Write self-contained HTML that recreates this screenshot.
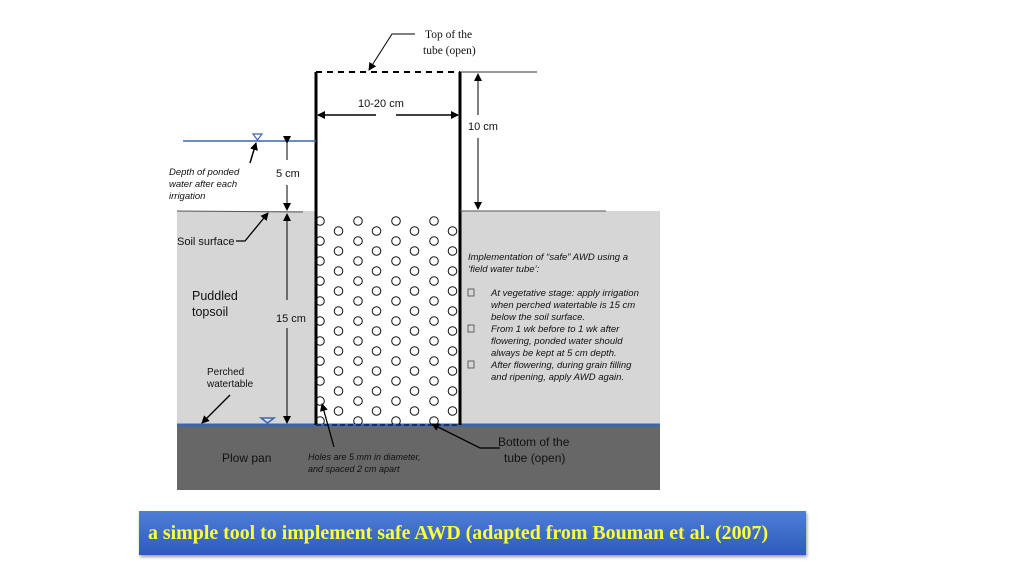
<!DOCTYPE html>
<html><head><meta charset="utf-8"><style>
html,body{margin:0;padding:0;background:#fff;}
body{width:1024px;height:576px;overflow:hidden;position:relative;font-family:"Liberation Sans",sans-serif;}
svg text{font-family:"Liberation Sans",sans-serif;fill:#111;}
.banner{position:absolute;left:139px;top:511px;width:667px;height:44px;background:linear-gradient(#4f7ed6,#2d5bbd);box-shadow:1px 2px 3px rgba(0,0,0,.4);}
.banner span{position:absolute;left:9px;top:11px;font-family:"Liberation Serif",serif;font-weight:bold;font-size:19.9px;color:#ffff3a;white-space:nowrap;}
</style></head><body>
<svg width="1024" height="576" style="position:absolute;left:0;top:0">
<defs>
<pattern id="holes" patternUnits="userSpaceOnUse" x="310" y="211" width="38" height="20">
<circle cx="10" cy="10" r="4.3" fill="none" stroke="#111" stroke-width="1"/>
<circle cx="28.5" cy="0" r="4.3" fill="none" stroke="#111" stroke-width="1"/>
<circle cx="28.5" cy="20" r="4.3" fill="none" stroke="#111" stroke-width="1"/>
</pattern>
<marker id="ah" markerWidth="8" markerHeight="8" refX="7" refY="4" orient="auto" markerUnits="userSpaceOnUse"><path d="M0,0 L8,4 L0,8 z" fill="#000"/></marker>
</defs>
<rect x="177" y="211" width="483" height="214" fill="#d6d6d6"/>
<rect x="316" y="200" width="144" height="226" fill="#fff"/>
<rect x="177" y="425" width="483" height="65" fill="#676767"/>
<line x1="177" y1="425" x2="660" y2="425" stroke="#3a66b0" stroke-width="3"/>
<rect x="314" y="216" width="144" height="208" fill="url(#holes)"/>
<line x1="316" y1="72" x2="316" y2="425" stroke="#000" stroke-width="3"/>
<line x1="460" y1="72" x2="460" y2="425" stroke="#000" stroke-width="3"/>
<line x1="316" y1="72" x2="460" y2="72" stroke="#000" stroke-width="2" stroke-dasharray="6,5"/>
<line x1="316" y1="425" x2="460" y2="425" stroke="#1a2c6a" stroke-width="2" stroke-dasharray="5,3"/>
<line x1="460" y1="72" x2="537" y2="72" stroke="#333" stroke-width="1"/>
<line x1="183" y1="141" x2="316" y2="141" stroke="#3a66b0" stroke-width="1.5"/>
<path d="M253,134 L262,134 L257.5,140 z" fill="#fff" stroke="#3a66b0" stroke-width="1.2"/>
<path d="M261,418 L274,418 L267.5,423 z" fill="#dde" stroke="#3a66b0" stroke-width="1.5"/>
<line x1="177" y1="211" x2="303" y2="212" stroke="#555" stroke-width="1"/>
<line x1="460" y1="211" x2="606" y2="211" stroke="#555" stroke-width="1"/>
<line x1="287" y1="143" x2="287" y2="160" stroke="#000" marker-start="url(#ah)"/>
<line x1="287" y1="185" x2="287" y2="210" stroke="#000" marker-end="url(#ah)"/>
<line x1="287" y1="300" x2="287" y2="214" stroke="#000" marker-end="url(#ah)"/>
<line x1="287" y1="328" x2="287" y2="423" stroke="#000" marker-end="url(#ah)"/>
<line x1="478" y1="115" x2="478" y2="74" stroke="#000" marker-end="url(#ah)"/>
<line x1="478" y1="138" x2="478" y2="209" stroke="#000" marker-end="url(#ah)"/>
<line x1="376" y1="115" x2="318" y2="115" stroke="#000" stroke-width="1.5" marker-end="url(#ah)"/>
<line x1="396" y1="115" x2="458" y2="115" stroke="#000" stroke-width="1.5" marker-end="url(#ah)"/>
<polyline points="415,34 392,34 369,70" fill="none" stroke="#000" stroke-width="1" marker-end="url(#ah)"/>
<line x1="250" y1="163" x2="256" y2="143" stroke="#000" stroke-width="1.5" marker-end="url(#ah)"/>
<polyline points="236,241 245,241 268,213" fill="none" stroke="#000" stroke-width="1.3" marker-end="url(#ah)"/>
<line x1="230" y1="395" x2="202" y2="423" stroke="#000" stroke-width="1.3" marker-end="url(#ah)"/>
<line x1="334" y1="447" x2="322" y2="404" stroke="#000" stroke-width="1.3" marker-end="url(#ah)"/>
<polyline points="500,448 480,448 432,424" fill="none" stroke="#000" stroke-width="1.3" marker-end="url(#ah)"/>
<text x="425" y="38" font-size="11.5" style="font-family:'Liberation Serif',serif">Top of the</text>
<text x="423" y="54" font-size="11.5" style="font-family:'Liberation Serif',serif">tube (open)</text>
<text x="358" y="107" font-size="11">10-20 cm</text>
<text x="468" y="130" font-size="11">10 cm</text>
<text x="276" y="177" font-size="11">5 cm</text>
<text x="276" y="322" font-size="11">15 cm</text>
<g font-size="9.5" font-style="italic">
<text x="169" y="175">Depth of ponded</text>
<text x="169" y="187">water after each</text>
<text x="169" y="199">irrigation</text>
</g>
<text x="177" y="245" font-size="11">Soil surface</text>
<text x="192" y="300" font-size="12.5">Puddled</text>
<text x="192" y="316" font-size="12.5">topsoil</text>
<text x="207" y="375" font-size="10">Perched</text>
<text x="207" y="387" font-size="10">watertable</text>
<text x="222" y="462" font-size="12" style="fill:#111">Plow pan</text>
<g font-size="9" font-style="italic">
<text x="308" y="460">Holes are 5  mm in diameter,</text>
<text x="308" y="472">and spaced 2 cm apart</text>
</g>
<text x="498" y="446" font-size="12">Bottom of the</text>
<text x="504" y="462" font-size="12">tube (open)</text>
<g font-size="9.5" font-style="italic">
<text x="468" y="260">Implementation of  “safe” AWD using a</text>
<text x="468" y="272">‘field water tube’:</text>
<text x="491" y="296">At vegetative stage: apply irrigation</text>
<text x="491" y="308">when perched watertable is 15 cm</text>
<text x="491" y="320">below the soil surface.</text>
<text x="491" y="332">From 1 wk before to 1 wk after</text>
<text x="491" y="344">flowering, ponded water should</text>
<text x="491" y="356">always be kept at 5 cm depth.</text>
<text x="491" y="368">After flowering, during grain filling</text>
<text x="491" y="380">and ripening, apply AWD again.</text>
</g>
<g fill="none" stroke="#444" stroke-width="0.8">
<rect x="468" y="289" width="6" height="7"/>
<rect x="468" y="325" width="6" height="7"/>
<rect x="468" y="361" width="6" height="7"/>
</g>
</svg>
<div class="banner"><span>a simple tool to implement safe AWD (adapted from Bouman et al. (2007)</span></div>
</body></html>
